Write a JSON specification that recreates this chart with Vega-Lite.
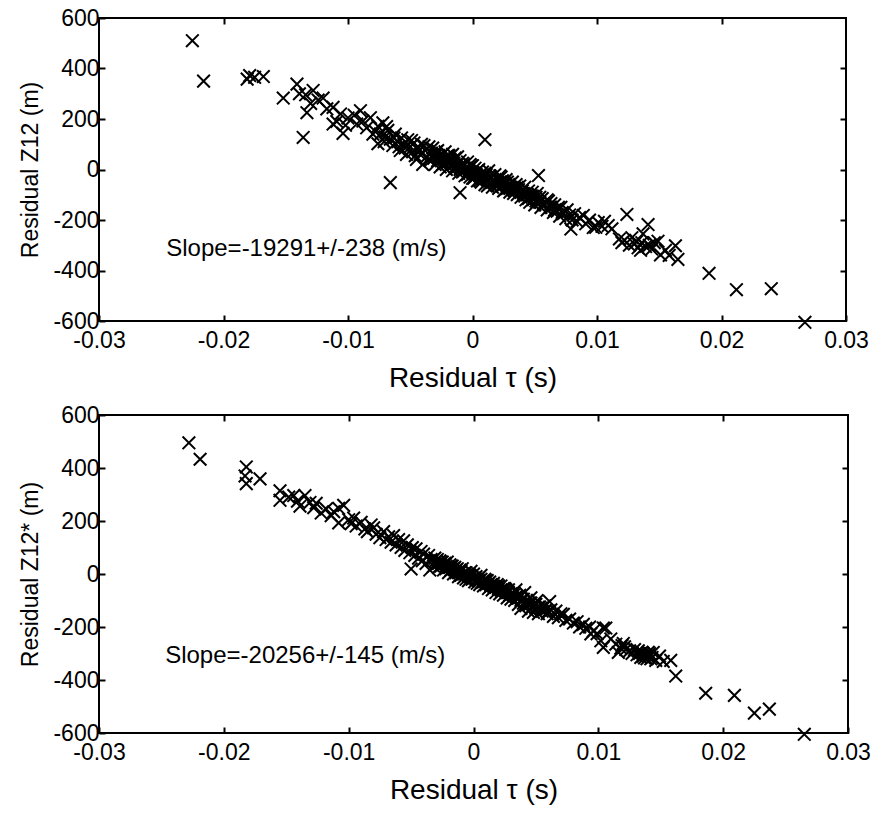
{
  "$schema": "https://vega.github.io/schema/vega-lite/v6.json",
  "background": "white",
  "padding": {"left": 18, "top": 6, "right": 10, "bottom": 2},
  "spacing": 10,
  "config": {
    "font": "Liberation Sans",
    "view": {"stroke": "black", "strokeWidth": 2},
    "axis": {
      "domain": false, "grid": false, "tickColor": "black", "tickWidth": 2, "tickSize": -6,
      "labelColor": "black", "labelFont": "Liberation Sans", "labelFontSize": 23,
      "labelFlush": false, "labelOverlap": false,
      "titleColor": "black", "titleFont": "Liberation Sans", "titleFontWeight": "normal"
    },
    "axisX": {"titleFontSize": 28, "labelPadding": 14, "titlePadding": 12},
    "axisY": {"titleFontSize": 23, "labelPadding": 6, "titlePadding": 10}
  },
  "datasets": {
    "top": [
      {"tau":-0.0225,"z":510},{"tau":-0.0216,"z":350},{"tau":-0.0181,"z":358},{"tau":-0.0179,"z":372},{"tau":-0.0175,"z":365},{"tau":-0.0168,"z":368},
      {"tau":-0.0152,"z":283},{"tau":-0.0141,"z":338},{"tau":-0.0136,"z":127},{"tau":-0.0134,"z":296},{"tau":-0.0128,"z":313},{"tau":-0.0133,"z":225},
      {"tau":-0.0120,"z":283},{"tau":-0.0112,"z":246},{"tau":-0.0112,"z":180},{"tau":-0.0104,"z":143},{"tau":-0.0106,"z":220},{"tau":-0.0100,"z":204},
      {"tau":-0.0090,"z":233},{"tau":-0.0088,"z":192},{"tau":-0.0076,"z":171},{"tau":-0.0076,"z":102},{"tau":-0.0139,"z":300},{"tau":-0.0130,"z":262},
      {"tau":-0.0124,"z":275},{"tau":-0.0117,"z":240},{"tau":-0.0109,"z":190},{"tau":-0.0102,"z":175},{"tau":-0.0095,"z":215},{"tau":-0.0093,"z":180},
      {"tau":-0.0085,"z":165},{"tau":-0.0082,"z":205},{"tau":-0.0080,"z":140},{"tau":-0.0072,"z":185},{"tau":-0.0070,"z":130},{"tau":-0.0068,"z":155},
      {"tau":-0.0066,"z":-52},{"tau":-0.0010,"z":-92},{"tau":0.0010,"z":118},{"tau":0.0053,"z":-24},{"tau":0.0079,"z":-236},
      {"tau":-0.0066,"z":120},{"tau":-0.0064,"z":95},{"tau":-0.0062,"z":140},{"tau":-0.0060,"z":110},{"tau":-0.0058,"z":75},{"tau":-0.0057,"z":125},
      {"tau":-0.0055,"z":100},{"tau":-0.0053,"z":60},{"tau":-0.0052,"z":118},{"tau":-0.0050,"z":90},{"tau":-0.0048,"z":70},{"tau":-0.0047,"z":105},
      {"tau":-0.0045,"z":40},{"tau":-0.0044,"z":85},{"tau":-0.0042,"z":60},{"tau":-0.0041,"z":100},{"tau":-0.0040,"z":20},{"tau":-0.0038,"z":75},
      {"tau":-0.0037,"z":50},{"tau":-0.0035,"z":90},{"tau":-0.0034,"z":35},{"tau":-0.0033,"z":65},
      {"tau":-0.0078,"z":150},{"tau":-0.0074,"z":140},{"tau":-0.0071,"z":110},{"tau":-0.0069,"z":170},{"tau":-0.0063,"z":125},{"tau":-0.0059,"z":90},
      {"tau":-0.0054,"z":85},{"tau":-0.0049,"z":115},{"tau":-0.0046,"z":55},{"tau":-0.0043,"z":75},{"tau":-0.0039,"z":95},
      {"tau":-0.0031,"z":45},{"tau":-0.0030,"z":20},{"tau":-0.0029,"z":70},{"tau":-0.0028,"z":35},{"tau":-0.0027,"z":55},{"tau":-0.0026,"z":10},
      {"tau":-0.0025,"z":40},{"tau":-0.0024,"z":60},{"tau":-0.0023,"z":25},{"tau":-0.0022,"z":45},{"tau":-0.0021,"z":0},{"tau":-0.0020,"z":30},
      {"tau":-0.0019,"z":55},{"tau":-0.0018,"z":15},{"tau":-0.0017,"z":35},{"tau":-0.0016,"z":-5},{"tau":-0.0015,"z":25},{"tau":-0.0014,"z":45},
      {"tau":-0.0013,"z":5},{"tau":-0.0012,"z":20},{"tau":-0.0011,"z":-15},{"tau":-0.0010,"z":35},{"tau":-0.0009,"z":10},{"tau":-0.0008,"z":-10},
      {"tau":-0.0007,"z":20},{"tau":-0.0006,"z":-25},{"tau":-0.0005,"z":5},{"tau":-0.0004,"z":30},{"tau":-0.0003,"z":-5},{"tau":-0.0002,"z":-30},
      {"tau":-0.0001,"z":15},{"tau":0.0000,"z":-10},{"tau":0.0001,"z":-35},{"tau":0.0002,"z":5},{"tau":0.0003,"z":-20},{"tau":0.0004,"z":-45},
      {"tau":0.0005,"z":0},{"tau":0.0006,"z":-25},{"tau":0.0007,"z":-50},{"tau":0.0008,"z":-10},{"tau":0.0009,"z":-35},{"tau":0.0010,"z":-60},
      {"tau":0.0011,"z":-20},{"tau":0.0012,"z":-40},{"tau":0.0013,"z":-5},{"tau":0.0014,"z":-55},{"tau":0.0015,"z":-30},{"tau":0.0016,"z":-70},
      {"tau":0.0017,"z":-45},{"tau":0.0018,"z":-20},{"tau":0.0019,"z":-60},{"tau":0.0020,"z":-40},{"tau":0.0021,"z":-75},{"tau":0.0022,"z":-50},
      {"tau":0.0023,"z":-30},{"tau":0.0024,"z":-65},{"tau":0.0025,"z":-85},{"tau":0.0026,"z":-55},{"tau":0.0027,"z":-40},{"tau":0.0028,"z":-75},
      {"tau":0.0029,"z":-60},{"tau":0.0030,"z":-90},
      {"tau":-0.0035,"z":40},{"tau":-0.0032,"z":85},{"tau":-0.0030,"z":55},{"tau":-0.0028,"z":75},{"tau":-0.0026,"z":45},{"tau":-0.0024,"z":20},
      {"tau":-0.0022,"z":70},{"tau":-0.0020,"z":55},{"tau":-0.0018,"z":40},{"tau":-0.0016,"z":60},{"tau":-0.0014,"z":10},{"tau":-0.0012,"z":50},
      {"tau":-0.0010,"z":0},{"tau":-0.0008,"z":25},{"tau":-0.0006,"z":5},{"tau":-0.0004,"z":-20},{"tau":-0.0002,"z":20},{"tau":0.0000,"z":15},
      {"tau":0.0000,"z":-35},{"tau":0.0002,"z":-15},{"tau":0.0004,"z":-5},{"tau":0.0006,"z":-45},{"tau":0.0008,"z":-30},{"tau":0.0010,"z":-15},
      {"tau":0.0012,"z":-65},{"tau":0.0014,"z":-25},{"tau":0.0016,"z":-45},{"tau":0.0018,"z":-50},{"tau":0.0020,"z":-65},{"tau":0.0022,"z":-25},
      {"tau":0.0024,"z":-45},{"tau":0.0026,"z":-80},{"tau":0.0028,"z":-50},{"tau":0.0030,"z":-70},{"tau":0.0033,"z":-80},{"tau":0.0036,"z":-70},
      {"tau":0.0039,"z":-90},{"tau":0.0042,"z":-105},{"tau":0.0045,"z":-115},{"tau":0.0048,"z":-105},{"tau":0.0051,"z":-125},{"tau":0.0054,"z":-110},
      {"tau":0.0057,"z":-135},{"tau":0.0060,"z":-120},{"tau":0.0063,"z":-135},{"tau":0.0066,"z":-160},{"tau":0.0069,"z":-150},{"tau":0.0072,"z":-170},
      {"tau":0.0031,"z":-70},{"tau":0.0032,"z":-50},{"tau":0.0033,"z":-95},{"tau":0.0034,"z":-75},{"tau":0.0035,"z":-60},{"tau":0.0036,"z":-100},
      {"tau":0.0037,"z":-80},{"tau":0.0038,"z":-65},{"tau":0.0039,"z":-110},{"tau":0.0040,"z":-85},{"tau":0.0041,"z":-95},{"tau":0.0042,"z":-70},
      {"tau":0.0043,"z":-120},{"tau":0.0044,"z":-100},{"tau":0.0045,"z":-85},{"tau":0.0046,"z":-130},{"tau":0.0047,"z":-105},{"tau":0.0048,"z":-90},
      {"tau":0.0049,"z":-120},{"tau":0.0050,"z":-140},{"tau":0.0051,"z":-110},{"tau":0.0052,"z":-95},{"tau":0.0054,"z":-130},{"tau":0.0055,"z":-150},
      {"tau":0.0056,"z":-115},{"tau":0.0058,"z":-140},{"tau":0.0060,"z":-160},{"tau":0.0061,"z":-125},{"tau":0.0063,"z":-150},{"tau":0.0065,"z":-170},
      {"tau":0.0066,"z":-140},{"tau":0.0068,"z":-165},{"tau":0.0070,"z":-185},{"tau":0.0071,"z":-150},{"tau":0.0073,"z":-175},{"tau":0.0075,"z":-195},
      {"tau":0.0076,"z":-160},{"tau":0.0078,"z":-180},{"tau":0.0080,"z":-200},
      {"tau":0.0082,"z":-175},{"tau":0.0084,"z":-205},{"tau":0.0086,"z":-190},{"tau":0.0089,"z":-182},{"tau":0.0091,"z":-215},{"tau":0.0094,"z":-200},
      {"tau":0.0097,"z":-230},{"tau":0.0099,"z":-229},{"tau":0.0101,"z":-210},{"tau":0.0104,"z":-225},{"tau":0.0106,"z":-205},{"tau":0.0109,"z":-222},
      {"tau":0.0112,"z":-235},{"tau":0.0120,"z":-290},{"tau":0.0118,"z":-275},{"tau":0.0122,"z":-280},{"tau":0.0124,"z":-178},{"tau":0.0126,"z":-300},
      {"tau":0.0128,"z":-270},{"tau":0.0130,"z":-295},{"tau":0.0132,"z":-285},{"tau":0.0133,"z":-310},{"tau":0.0135,"z":-320},{"tau":0.0136,"z":-290},
      {"tau":0.0137,"z":-255},{"tau":0.0139,"z":-305},{"tau":0.0141,"z":-218},{"tau":0.0142,"z":-300},{"tau":0.0144,"z":-315},{"tau":0.0146,"z":-290},
      {"tau":0.0149,"z":-284},{"tau":0.0151,"z":-338},{"tau":0.0155,"z":-320},{"tau":0.0158,"z":-340},{"tau":0.0163,"z":-302},{"tau":0.0165,"z":-356},
      {"tau":0.0190,"z":-411},{"tau":0.0212,"z":-476},{"tau":0.0240,"z":-472},{"tau":0.0267,"z":-605}
    ],
    "bottom": [
      {"tau":-0.0228,"z":495},{"tau":-0.0219,"z":433},{"tau":-0.0182,"z":404},{"tau":-0.0183,"z":370},{"tau":-0.0182,"z":341},{"tau":-0.0171,"z":359},
      {"tau":-0.0155,"z":314},{"tau":-0.0155,"z":278},{"tau":-0.0144,"z":296},{"tau":-0.0135,"z":296},{"tau":-0.0139,"z":256},{"tau":-0.0126,"z":267},
      {"tau":-0.0122,"z":230},{"tau":-0.0108,"z":248},{"tau":-0.0104,"z":259},{"tau":-0.0108,"z":193},{"tau":-0.0096,"z":211},{"tau":-0.0094,"z":181},
      {"tau":-0.0080,"z":174},{"tau":-0.0075,"z":137},{"tau":-0.0148,"z":290},{"tau":-0.0141,"z":275},{"tau":-0.0131,"z":270},{"tau":-0.0128,"z":250},
      {"tau":-0.0118,"z":245},{"tau":-0.0114,"z":220},{"tau":-0.0112,"z":235},{"tau":-0.0100,"z":205},{"tau":-0.0098,"z":190},{"tau":-0.0090,"z":195},
      {"tau":-0.0087,"z":170},{"tau":-0.0085,"z":160},{"tau":-0.0082,"z":185},{"tau":-0.0078,"z":150},{"tau":-0.0072,"z":160},{"tau":-0.0070,"z":130},
      {"tau":-0.0068,"z":140},{"tau":-0.0066,"z":120},{"tau":-0.0064,"z":145},{"tau":-0.0062,"z":110},{"tau":-0.0060,"z":130},{"tau":-0.0058,"z":100},
      {"tau":-0.0056,"z":125},{"tau":-0.0055,"z":89},{"tau":-0.0053,"z":110},{"tau":-0.0051,"z":80},{"tau":-0.0050,"z":19},{"tau":-0.0049,"z":100},
      {"tau":-0.0047,"z":70},{"tau":-0.0046,"z":95},{"tau":-0.0044,"z":60},{"tau":-0.0042,"z":85},{"tau":-0.0041,"z":50},{"tau":-0.0040,"z":75},
      {"tau":-0.0038,"z":40},{"tau":-0.0036,"z":70},{"tau":-0.0035,"z":15},{"tau":-0.0034,"z":55},{"tau":-0.0032,"z":30},
      {"tau":-0.0031,"z":60},{"tau":-0.0030,"z":35},{"tau":-0.0029,"z":55},{"tau":-0.0028,"z":25},{"tau":-0.0027,"z":50},{"tau":-0.0026,"z":30},
      {"tau":-0.0025,"z":45},{"tau":-0.0024,"z":15},{"tau":-0.0023,"z":40},{"tau":-0.0022,"z":20},{"tau":-0.0021,"z":45},{"tau":-0.0020,"z":5},
      {"tau":-0.0019,"z":35},{"tau":-0.0018,"z":15},{"tau":-0.0017,"z":30},{"tau":-0.0016,"z":0},{"tau":-0.0015,"z":25},{"tau":-0.0014,"z":5},
      {"tau":-0.0013,"z":20},{"tau":-0.0012,"z":-10},{"tau":-0.0011,"z":15},{"tau":-0.0010,"z":-5},{"tau":-0.0009,"z":20},{"tau":-0.0008,"z":-15},
      {"tau":-0.0007,"z":5},{"tau":-0.0006,"z":-20},{"tau":-0.0005,"z":0},{"tau":-0.0004,"z":-25},{"tau":-0.0003,"z":-5},{"tau":-0.0002,"z":10},
      {"tau":-0.0001,"z":-20},{"tau":0.0000,"z":0},{"tau":0.0001,"z":-30},{"tau":0.0002,"z":-10},{"tau":0.0003,"z":-35},{"tau":0.0004,"z":-15},
      {"tau":0.0005,"z":-40},{"tau":0.0006,"z":-5},{"tau":0.0007,"z":-30},{"tau":0.0008,"z":-45},{"tau":0.0009,"z":-20},{"tau":0.0010,"z":-40},
      {"tau":0.0011,"z":-25},{"tau":0.0012,"z":-55},{"tau":0.0013,"z":-30},{"tau":0.0014,"z":-45},{"tau":0.0015,"z":-60},{"tau":0.0016,"z":-35},
      {"tau":0.0017,"z":-50},{"tau":0.0018,"z":-70},{"tau":0.0019,"z":-40},{"tau":0.0020,"z":-55},{"tau":0.0021,"z":-75},{"tau":0.0022,"z":-45},
      {"tau":0.0023,"z":-65},{"tau":0.0024,"z":-80},{"tau":0.0025,"z":-55},{"tau":0.0026,"z":-70},{"tau":0.0027,"z":-90},{"tau":0.0028,"z":-60},
      {"tau":0.0029,"z":-80},{"tau":0.0030,"z":-95},
      {"tau":-0.0030,"z":50},{"tau":-0.0028,"z":40},{"tau":-0.0026,"z":45},{"tau":-0.0024,"z":35},{"tau":-0.0022,"z":30},{"tau":-0.0020,"z":25},
      {"tau":-0.0018,"z":30},{"tau":-0.0016,"z":20},{"tau":-0.0014,"z":15},{"tau":-0.0012,"z":5},{"tau":-0.0010,"z":10},{"tau":-0.0008,"z":0},
      {"tau":-0.0006,"z":5},{"tau":-0.0004,"z":-5},{"tau":-0.0002,"z":-10},{"tau":0.0000,"z":-15},{"tau":0.0002,"z":-20},{"tau":0.0004,"z":-25},
      {"tau":0.0006,"z":-20},{"tau":0.0008,"z":-30},{"tau":0.0010,"z":-25},{"tau":0.0012,"z":-35},{"tau":0.0014,"z":-40},{"tau":0.0016,"z":-45},
      {"tau":0.0018,"z":-50},{"tau":0.0020,"z":-45},{"tau":0.0022,"z":-60},{"tau":0.0024,"z":-55},{"tau":0.0026,"z":-60},{"tau":0.0028,"z":-70},
      {"tau":0.0030,"z":-75},{"tau":0.0032,"z":-80},{"tau":0.0034,"z":-85},{"tau":0.0036,"z":-90},{"tau":0.0038,"z":-100},{"tau":0.0040,"z":-95},
      {"tau":0.0042,"z":-105},{"tau":0.0044,"z":-115},{"tau":0.0046,"z":-110},{"tau":0.0048,"z":-120},{"tau":0.0050,"z":-115},{"tau":0.0052,"z":-125},
      {"tau":0.0054,"z":-130},{"tau":0.0056,"z":-125},{"tau":0.0058,"z":-135},{"tau":0.0060,"z":-140},
      {"tau":0.0031,"z":-75},{"tau":0.0033,"z":-100},{"tau":0.0034,"z":-60},{"tau":0.0035,"z":-90},{"tau":0.0036,"z":-115},{"tau":0.0037,"z":-80},
      {"tau":0.0038,"z":-130},{"tau":0.0039,"z":-95},{"tau":0.0040,"z":-110},{"tau":0.0041,"z":-70},{"tau":0.0042,"z":-120},{"tau":0.0043,"z":-100},
      {"tau":0.0044,"z":-140},{"tau":0.0045,"z":-110},{"tau":0.0046,"z":-90},{"tau":0.0047,"z":-125},{"tau":0.0048,"z":-145},{"tau":0.0049,"z":-115},
      {"tau":0.0050,"z":-130},{"tau":0.0051,"z":-100},{"tau":0.0052,"z":-150},{"tau":0.0053,"z":-125},{"tau":0.0055,"z":-140},{"tau":0.0057,"z":-120},
      {"tau":0.0059,"z":-150},{"tau":0.0061,"z":-104},{"tau":0.0062,"z":-135},{"tau":0.0064,"z":-160},{"tau":0.0066,"z":-140},{"tau":0.0068,"z":-165},
      {"tau":0.0070,"z":-150},{"tau":0.0072,"z":-152},{"tau":0.0074,"z":-175},{"tau":0.0077,"z":-170},{"tau":0.0080,"z":-185},{"tau":0.0083,"z":-180},
      {"tau":0.0085,"z":-200},{"tau":0.0088,"z":-190},{"tau":0.0090,"z":-205},{"tau":0.0093,"z":-200},{"tau":0.0096,"z":-215},{"tau":0.0099,"z":-225},
      {"tau":0.0094,"z":-226},{"tau":0.0102,"z":-252},{"tau":0.0104,"z":-204},{"tau":0.0106,"z":-204},{"tau":0.0104,"z":-277},{"tau":0.0110,"z":-245},
      {"tau":0.0114,"z":-265},{"tau":0.0116,"z":-296},{"tau":0.0118,"z":-280},{"tau":0.0120,"z":-262},{"tau":0.0122,"z":-285},{"tau":0.0125,"z":-290},
      {"tau":0.0127,"z":-300},{"tau":0.0129,"z":-285},{"tau":0.0131,"z":-305},{"tau":0.0133,"z":-300},{"tau":0.0134,"z":-315},{"tau":0.0135,"z":-295},
      {"tau":0.0137,"z":-317},{"tau":0.0138,"z":-305},{"tau":0.0140,"z":-310},{"tau":0.0142,"z":-320},{"tau":0.0144,"z":-296},{"tau":0.0146,"z":-326},
      {"tau":0.0149,"z":-310},{"tau":0.0152,"z":-330},{"tau":0.0158,"z":-326},{"tau":0.0162,"z":-385},
      {"tau":0.0132,"z":-290},{"tau":0.0136,"z":-300},{"tau":0.0139,"z":-320},{"tau":0.0141,"z":-300},{"tau":0.0143,"z":-315},{"tau":0.0136,"z":-310},
      {"tau":0.0140,"z":-295},{"tau":0.0119,"z":-270},{"tau":0.0121,"z":-275},
      {"tau":0.0186,"z":-450},{"tau":0.0209,"z":-458},{"tau":0.0225,"z":-525},{"tau":0.0237,"z":-510},{"tau":0.0265,"z":-605}
    ]
  },
  "vconcat": [
    {
      "width": 747,
      "height": 303,
      "layer": [
        {
          "data": {"name": "top"},
          "mark": {"type": "point", "shape": "M-1,-1L1,1M1,-1L-1,1", "size": 160, "filled": false, "stroke": "black", "strokeWidth": 2, "opacity": 1},
          "encoding": {
            "x": {"field": "tau", "type": "quantitative", "scale": {"domain": [-0.03, 0.03], "nice": false, "zero": false},
                  "axis": {"orient": "bottom", "values": [-0.03, -0.02, -0.01, 0, 0.01, 0.02, 0.03], "labelExpr": "(datum.value < 0 ? '-' : '') + format(abs(datum.value), '~g')"},
                  "title": "Residual τ (s)"},
            "y": {"field": "z", "type": "quantitative", "scale": {"domain": [-600, 600], "nice": false, "zero": false},
                  "axis": {"orient": "left", "values": [-600, -400, -200, 0, 200, 400, 600], "labelExpr": "(datum.value < 0 ? '-' : '') + format(abs(datum.value), 'd')"},
                  "title": "Residual Z12 (m)"}
          }
        },
        {
          "data": {"values": [{}]},
          "mark": {"type": "text", "align": "left", "baseline": "middle", "fontSize": 24, "font": "Liberation Sans", "color": "black"},
          "encoding": {
            "x": {"datum": -0.0246, "type": "quantitative", "axis": null},
            "y": {"datum": -313, "type": "quantitative", "axis": null},
            "text": {"value": "Slope=-19291+/-238 (m/s)"}
          }
        },
        {
          "data": {"name": "top"},
          "mark": {"type": "point", "opacity": 0},
          "encoding": {
            "x": {"field": "tau", "type": "quantitative", "axis": {"orient": "top", "labels": false, "title": null, "values": [-0.02, -0.01, 0, 0.01, 0.02]}},
            "y": {"field": "z", "type": "quantitative", "axis": {"orient": "right", "labels": false, "title": null, "values": [-400, -200, 0, 200, 400]}}
          }
        }
      ],
      "resolve": {"axis": {"x": "independent", "y": "independent"}}
    },
    {
      "width": 749,
      "height": 318,
      "layer": [
        {
          "data": {"name": "bottom"},
          "mark": {"type": "point", "shape": "M-1,-1L1,1M1,-1L-1,1", "size": 160, "filled": false, "stroke": "black", "strokeWidth": 2, "opacity": 1},
          "encoding": {
            "x": {"field": "tau", "type": "quantitative", "scale": {"domain": [-0.03, 0.03], "nice": false, "zero": false},
                  "axis": {"orient": "bottom", "values": [-0.03, -0.02, -0.01, 0, 0.01, 0.02, 0.03], "labelExpr": "(datum.value < 0 ? '-' : '') + format(abs(datum.value), '~g')"},
                  "title": "Residual τ (s)"},
            "y": {"field": "z", "type": "quantitative", "scale": {"domain": [-600, 600], "nice": false, "zero": false},
                  "axis": {"orient": "left", "values": [-600, -400, -200, 0, 200, 400, 600], "labelExpr": "(datum.value < 0 ? '-' : '') + format(abs(datum.value), 'd')"},
                  "title": "Residual Z12* (m)"}
          }
        },
        {
          "data": {"values": [{}]},
          "mark": {"type": "text", "align": "left", "baseline": "middle", "fontSize": 24, "font": "Liberation Sans", "color": "black"},
          "encoding": {
            "x": {"datum": -0.0247, "type": "quantitative", "axis": null},
            "y": {"datum": -309, "type": "quantitative", "axis": null},
            "text": {"value": "Slope=-20256+/-145 (m/s)"}
          }
        },
        {
          "data": {"name": "bottom"},
          "mark": {"type": "point", "opacity": 0},
          "encoding": {
            "x": {"field": "tau", "type": "quantitative", "axis": {"orient": "top", "labels": false, "title": null, "values": [-0.02, -0.01, 0, 0.01, 0.02]}},
            "y": {"field": "z", "type": "quantitative", "axis": {"orient": "right", "labels": false, "title": null, "values": [-400, -200, 0, 200, 400]}}
          }
        }
      ],
      "resolve": {"axis": {"x": "independent", "y": "independent"}}
    }
  ]
}
